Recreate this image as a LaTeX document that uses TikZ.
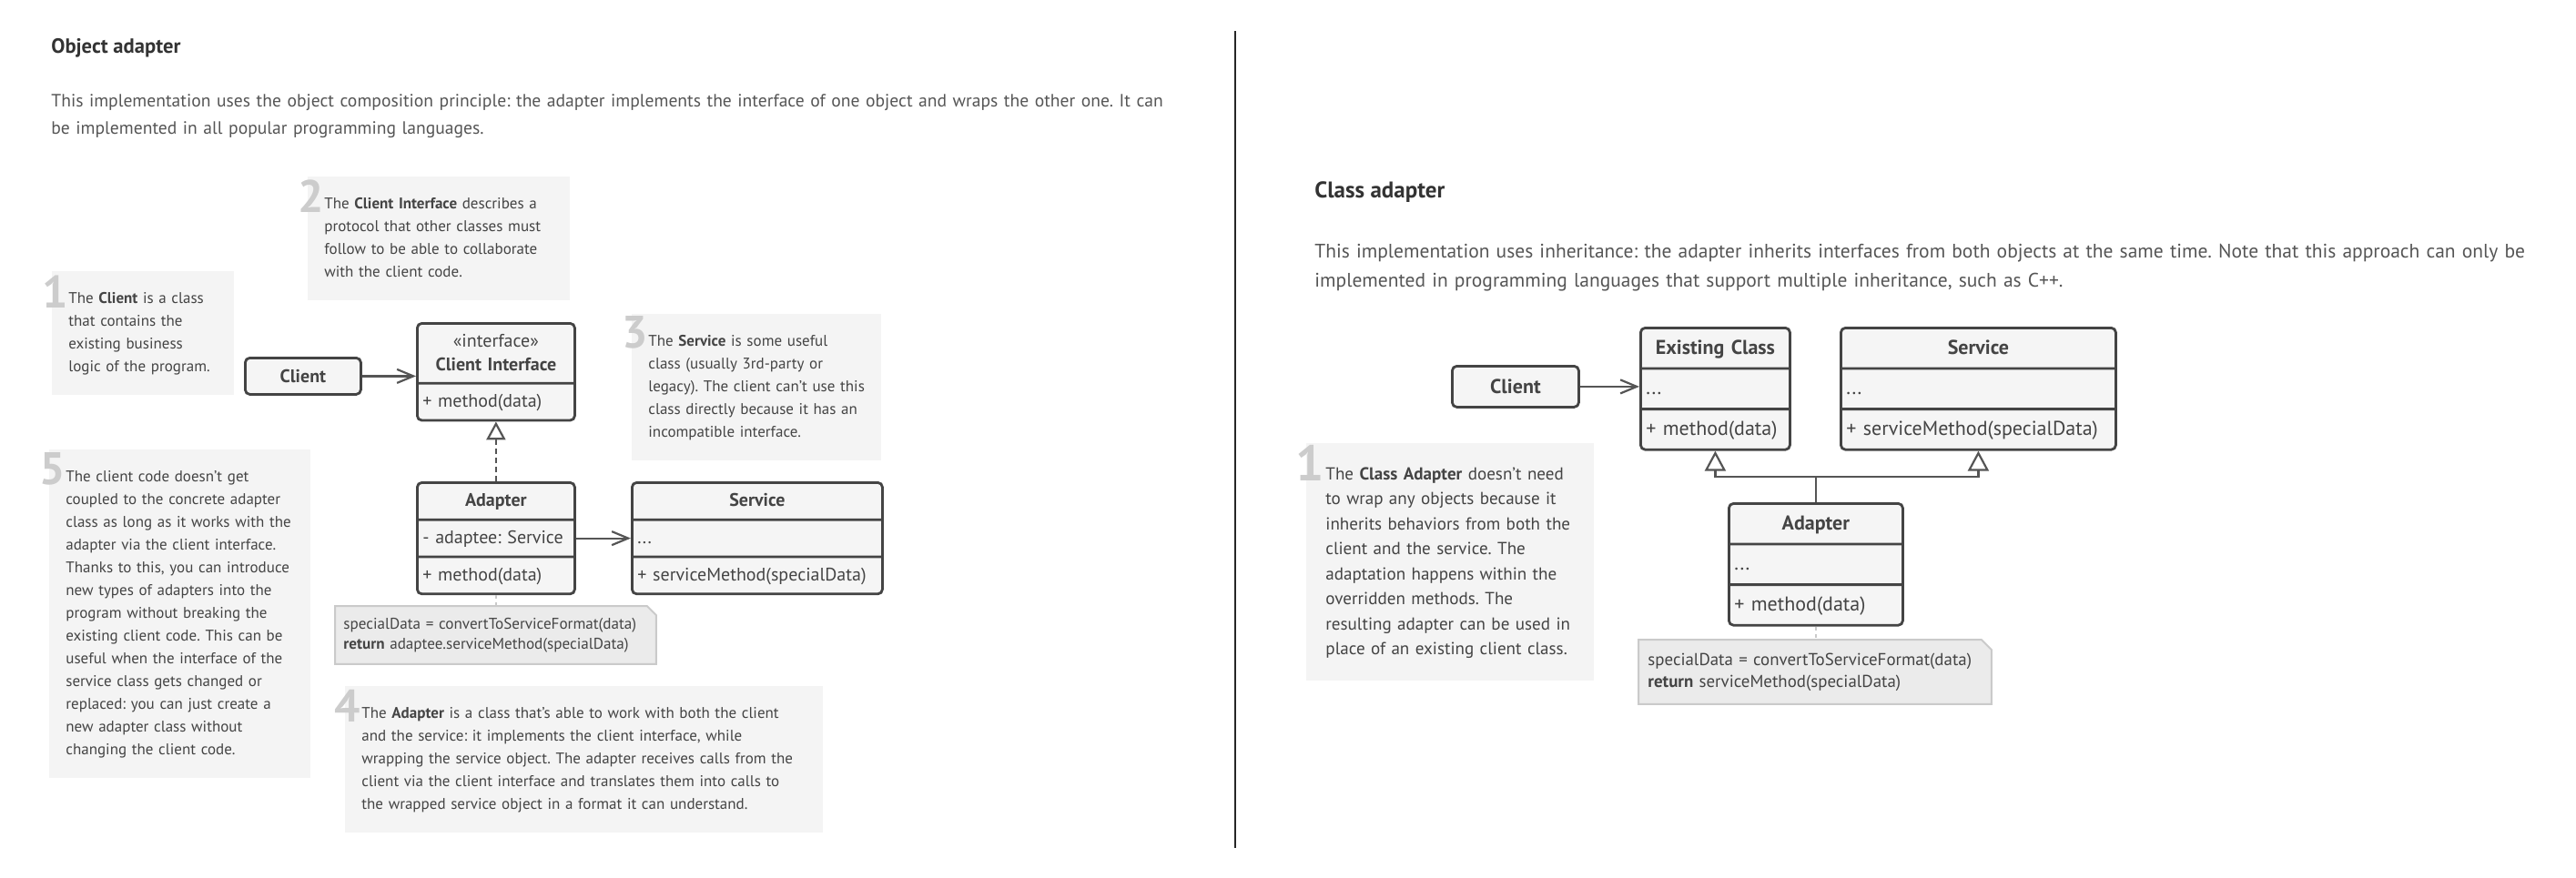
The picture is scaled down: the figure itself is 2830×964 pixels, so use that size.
\documentclass[tikz,border=0pt]{standalone}
\usepackage{fontspec}
\setmainfont{PT Sans}
\usetikzlibrary{shapes.multipart, arrows.meta, calc, backgrounds}

\definecolor{ink}{HTML}{444444}
\definecolor{bodyink}{HTML}{555555}
\definecolor{titleink}{HTML}{333333}
\definecolor{panel}{HTML}{F4F4F4}
\definecolor{digitgray}{HTML}{CCCCCC}
\definecolor{clsfill}{HTML}{F5F5F5}
\definecolor{wire}{HTML}{555555}
\definecolor{notefill}{HTML}{EBEBEB}
\definecolor{noteline}{HTML}{CACACA}

% struts for the rows of a class box (scale with the font)
\newcommand\rowstrut{\rule[-0.65em]{0pt}{1.9em}}
\newcommand\topstrut{\rule{0pt}{1.25em}}
\newcommand\botstrut{\rule[-0.6em]{0pt}{0.6em}}
\newcommand\lrow[1]{\hbox to\hsize{\rowstrut#1\hfil}}
\frenchspacing
\hyphenpenalty=10000
\exhyphenpenalty=10000

\begin{document}
\begin{tikzpicture}[x=0.5pt, y=-0.5pt]
    \tikzstyle{infobox} = [anchor=north west, fill=panel, text=ink, align=left, inner xsep=9pt, inner ysep=9pt, font=\fontsize{8.5}{12.5}\selectfont]
    \tikzstyle{digit} = [anchor=north west, inner sep=0pt, text=digitgray, font=\fontsize{25}{25}\selectfont\bfseries]
    \tikzstyle{classbox} = [rectangle split, rectangle split parts=3, draw=ink, line width=1.4pt, fill=clsfill, rounded corners=2.5pt, anchor=north west, inner ysep=0pt, inner xsep=3pt, align=center, text=ink, font=\fontsize{10}{13}\selectfont]
    \tikzstyle{plainbox} = [rectangle, draw=ink, line width=1.4pt, fill=clsfill, rounded corners=2.5pt, anchor=north west, text=ink, font=\fontsize{10}{13}\selectfont\bfseries]
    \tikzstyle{codenote} = [anchor=north west, align=left, inner xsep=4.5pt, inner ysep=4.75pt, text=ink, font=\fontsize{8.55}{11}\selectfont]
    \tikzstyle{assoc} = [draw=wire, line width=1.1pt, -{Straight Barb[length=9pt,width=7.5pt]}]
    \tikzstyle{realize} = [draw=wire, line width=1.1pt, dash pattern=on 3pt off 2pt, -{Triangle[open,length=10pt,width=10.5pt]}]
    \tikzstyle{inherit} = [draw=wire, line width=1.1pt, -{Triangle[open,length=11pt,width=11.5pt]}]
    \tikzstyle{anchorline} = [draw=noteline, line width=1pt, dash pattern=on 2pt off 2pt]
    \useasboundingbox (0,0) rectangle (2830,964);

    % Object adapter: heading
    \node [anchor=base west, inner sep=0pt, text=titleink, font=\fontsize{11.3}{13}\selectfont\bfseries] (titleA) at (56,58) {Object adapter};
    \node [anchor=base west, inner sep=0pt, text width=660pt, align=left, text=bodyink, font=\fontsize{9.8}{15}\selectfont] (introA) at (56,117) {This implementation uses the object composition principle: the adapter implements the interface of one object and wraps the other one. It can\\be implemented in all popular programming languages.};

    % Object adapter: notes
    \node [infobox, text width=82pt] (note1) at (57,298) {\strut The \textbf{Client} is a class\\that contains the\\existing business\\logic of the program.\strut};
    \node [infobox, text width=126pt] (note2) at (338,194) {\strut The \textbf{Client Interface} describes a\\protocol that other classes must\\follow to be able to collaborate\\with the client code.\strut};
    \node [infobox, text width=119pt] (note3) at (694,345) {\strut The \textbf{Service} is some useful\\class (usually 3rd-party or\\legacy). The client can't use this\\class directly because it has an\\incompatible interface.\strut};
    \node [infobox, text width=244.5pt] (note4) at (379,754) {\strut The \textbf{Adapter} is a class that's able to work with both the client\\and the service: it implements the client interface, while\\wrapping the service object. The adapter receives calls from the\\client via the client interface and translates them into calls to\\the wrapped service object in a format it can understand.\strut};
    \node [infobox, text width=125.5pt] (note5) at (54,494) {\strut The client code doesn't get\\coupled to the concrete adapter\\class as long as it works with the\\adapter via the client interface.\\Thanks to this, you can introduce\\new types of adapters into the\\program without breaking the\\existing client code. This can be\\useful when the interface of the\\service class gets changed or\\replaced: you can just create a\\new adapter class without\\changing the client code.\strut};

    \node [digit] (num1) at ([shift={(-11,4)}]note1.north west) {1};
    \node [digit] (num2) at ([shift={(-11,3)}]note2.north west) {2};
    \node [digit] (num3) at ([shift={(-11,2)}]note3.north west) {3};
    \node [digit] (num4) at ([shift={(-12,4)}]note4.north west) {4};
    \node [digit] (num5) at ([shift={(-11,3)}]note5.north west) {5};

    % Object adapter: classes
    \node [plainbox, minimum width=63.5pt, minimum height=20pt] (client) at (268,392) {Client};
    \node [classbox, rectangle split parts=2, text width=80.5pt] (iface) at (457,354) {\topstrut«interface»\\\textbf{Client Interface}\botstrut\nodepart{two}\lrow{+ method(data)}};
    \node [classbox, text width=80.5pt] (adapter) at (457,529) {\rowstrut\textbf{Adapter}\nodepart{two}\lrow{- adaptee: Service}\nodepart{three}\lrow{+ method(data)}};
    \node [classbox, text width=131.5pt] (service) at (693,529) {\rowstrut\textbf{Service}\nodepart{two}\lrow{...}\nodepart{three}\lrow{+ serviceMethod(specialData)}};
    \node [codenote, text width=167pt] (memo) at (368,666) {\strut specialData = convertToServiceFormat(data)\\\textbf{return} adaptee.serviceMethod(specialData)\strut};

    % Object adapter: connections
    \draw [assoc] (client.east) -- (client.east -| iface.west);
    \draw [realize] (adapter.north) -- (iface.south);
    \draw [assoc] ($(adapter.text split east)!.5!(adapter.two split east)$) -- ($(service.text split west)!.5!(service.two split west)$);
    \draw [anchorline] (adapter.south) -- (adapter.south |- memo.north);

    % divider
    \draw [line width=1pt, black!85] (1357,34) -- (1357,932);

    % Class adapter: heading
    \node [anchor=base west, inner sep=0pt, text=titleink, font=\fontsize{12.5}{14}\selectfont\bfseries] (titleB) at (1444,217) {Class adapter};
    \node [anchor=base west, inner sep=0pt, text width=680pt, align=left, text=bodyink, font=\fontsize{10.75}{16.3}\selectfont] (introB) at (1444,283) {This implementation uses inheritance: the adapter inherits interfaces from both objects at the same time. Note that this approach can only be\\implemented in programming languages that support multiple inheritance, such as C++.};

    % Class adapter: note
    \node [infobox, inner xsep=10.5pt, inner ysep=10.25pt, text width=137pt, font=\fontsize{9.55}{13.75}\selectfont] (note6) at (1435,487) {\strut The \textbf{Class Adapter} doesn't need\\to wrap any objects because it\\inherits behaviors from both the\\client and the service. The\\adaptation happens within the\\overridden methods. The\\resulting adapter can be used in\\place of an existing client class.\strut};
    \node [digit, font=\fontsize{27.5}{27.5}\selectfont\bfseries] (num6) at ([shift={(-12,2)}]note6.north west) {1};

    % Class adapter: classes
    \node [plainbox, minimum width=69.5pt, minimum height=22.5pt, font=\fontsize{11}{14.3}\selectfont\bfseries] (client2) at (1594,401) {Client};
    \node [classbox, text width=76pt, font=\fontsize{11}{14.3}\selectfont] (existing) at (1801,359) {\rowstrut\textbf{Existing Class}\nodepart{two}\lrow{...}\nodepart{three}\lrow{+ method(data)}};
    \node [classbox, text width=145pt, font=\fontsize{11}{14.3}\selectfont] (service2) at (2021,359) {\rowstrut\textbf{Service}\nodepart{two}\lrow{...}\nodepart{three}\lrow{+ serviceMethod(specialData)}};
    \node [classbox, text width=89.5pt, font=\fontsize{11}{14.3}\selectfont] (adapter2) at (1898,552) {\rowstrut\textbf{Adapter}\nodepart{two}\lrow{...}\nodepart{three}\lrow{+ method(data)}};
    \node [codenote, inner xsep=5pt, inner ysep=5.4pt, text width=183.5pt, font=\fontsize{9.45}{12.1}\selectfont] (memo2) at (1800,703) {\strut specialData = convertToServiceFormat(data)\\\textbf{return} serviceMethod(specialData)\strut};

    % Class adapter: connections
    \draw [assoc] (client2.east) -- (client2.east -| existing.west);
    \draw [inherit] (adapter2.north) -- ++(0,-28) -| (existing.south);
    \draw [inherit] (adapter2.north) -- ++(0,-28) -| (service2.south);
    \draw [anchorline] (adapter2.south) -- (adapter2.south |- memo2.north);

    % folded note outlines
    \begin{scope}[on background layer]
        \filldraw [fill=notefill, draw=noteline, line width=1pt] (memo.north west) -- ([xshift=-5pt]memo.north east) -- ([yshift=-5pt]memo.north east) -- (memo.south east) -- (memo.south west) -- cycle;
        \filldraw [fill=notefill, draw=noteline, line width=1pt] (memo2.north west) -- ([xshift=-5.5pt]memo2.north east) -- ([yshift=-5.5pt]memo2.north east) -- (memo2.south east) -- (memo2.south west) -- cycle;
    \end{scope}
\end{tikzpicture}
\end{document}
